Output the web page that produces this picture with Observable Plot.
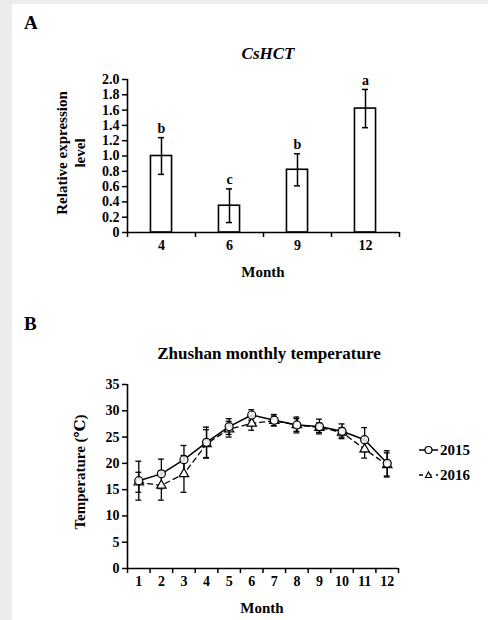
<!DOCTYPE html>
<html>
<head>
<meta charset="utf-8">
<script src="https://cdn.jsdelivr.net/npm/d3@7"></script>
<script src="https://cdn.jsdelivr.net/npm/@observablehq/plot@0.6"></script>
<style>
  html, body { margin: 0; padding: 0; }
  body { width: 488px; height: 620px; background: #ececec; position: relative; overflow: hidden;
         font-family: "Liberation Serif", "Times New Roman", "DejaVu Serif", serif; font-weight: bold; color: #000; }
  #panel { position: absolute; left: 12px; top: 4px; width: 476px; height: 616px; background: #fff; }
  .abs { position: absolute; white-space: nowrap; line-height: 1; }
  .c { transform: translate(-50%, -50%); }
  .rot { transform: translate(-50%, -50%) rotate(-90deg); }
  .chart { position: absolute; left: 0; }
  .chart svg, .chart svg text { font-family: "Liberation Serif", "Times New Roman", serif !important; font-weight: bold !important; font-size: 14px !important; }
</style>
</head>
<body>
<div id="panel"></div>
<div class="abs" style="left:24px; top:13px; font-size:19px;">A</div>
<div class="abs c" style="left:268px; top:53px; font-size:17px; font-style:italic;">CsHCT</div>
<div class="abs rot" style="left:62px; top:153px; font-size:15px;">Relative expression</div>
<div class="abs rot" style="left:80px; top:153px; font-size:15px;">level</div>
<div class="abs c" style="left:263px; top:272px; font-size:15px;">Month</div>
<div id="chartA" class="chart" style="top:0px;"></div>

<div class="abs" style="left:24px; top:314px; font-size:19px;">B</div>
<div class="abs c" style="left:269px; top:353px; font-size:17px;">Zhushan monthly temperature</div>
<div class="abs rot" style="left:80px; top:472px; font-size:15px;">Temperature (℃)</div>
<div class="abs c" style="left:262px; top:608px; font-size:15px;">Month</div>
<div id="chartB" class="chart" style="top:290px;"></div>
<div id="legend" class="abs" style="left:419px; top:440px;"></div>

<script>
// ---------- Panel A data ----------
const monthsA = ["4", "6", "9", "12"];
const expr = [1.0, 0.35, 0.82, 1.62];
const exprErr = [0.24, 0.22, 0.21, 0.25];
const sigLetters = ["b", "c", "b", "a"];
const exprTicks = [0, 0.2, 0.4, 0.6, 0.8, 1.0, 1.2, 1.4, 1.6, 1.8, 2.0];

// ---------- Panel B data ----------
const months = [1, 2, 3, 4, 5, 6, 7, 8, 9, 10, 11, 12];
const temp2015 = [16.7, 18.0, 20.7, 24.0, 27.0, 29.2, 28.2, 27.3, 27.0, 26.1, 24.5, 20.0];
const err2015  = [3.7, 2.8, 2.7, 2.9, 1.5, 1.0, 1.1, 1.5, 1.4, 1.4, 2.3, 2.4];
const temp2016 = [16.4, 15.8, 18.0, 23.7, 26.5, 27.6, 28.1, 27.3, 26.8, 25.9, 22.7, 19.7];
const err2016  = [1.9, 2.8, 3.5, 2.7, 1.5, 1.3, 0.9, 1.2, 0.9, 0.9, 1.7, 2.3];
const tempTicks = [0, 5, 10, 15, 20, 25, 30, 35];
const seriesNames = ["2015", "2016"];

const FONT = '"Liberation Serif", "Times New Roman", serif';
const style = { fontFamily: FONT, fontSize: "14px", fontWeight: "bold", color: "#000", background: "transparent", overflow: "visible" };

// ---------- Chart A ----------
const dataA = monthsA.map((m, i) => ({ i, m, v: expr[i], e: exprErr[i], L: sigLetters[i] }));
const xDomA = [-0.5, monthsA.length - 0.5];
const halfBar = 0.155, halfCapA = 0.045;

const chartA = Plot.plot({
  width: 488, height: 290,
  marginLeft: 127, marginRight: 89, marginTop: 79, marginBottom: 58,
  style,
  x: { domain: xDomA, axis: null },
  y: { domain: [0, 2], axis: null },
  marks: [
    Plot.rectY(dataA, { x1: d => d.i - halfBar, x2: d => d.i + halfBar, y: "v", fill: "white", stroke: "black", strokeWidth: 1.6 }),
    Plot.ruleX(dataA, { x: "i", y1: d => d.v - d.e, y2: d => d.v + d.e, stroke: "black", strokeWidth: 1.5 }),
    Plot.ruleY(dataA, { y: d => d.v + d.e, x1: d => d.i - halfCapA, x2: d => d.i + halfCapA, stroke: "black", strokeWidth: 1.5 }),
    Plot.ruleY(dataA, { y: d => d.v - d.e, x1: d => d.i - halfCapA, x2: d => d.i + halfCapA, stroke: "black", strokeWidth: 1.5 }),
    Plot.text(dataA, { x: "i", y: d => d.v + d.e, text: "L", dy: -9, fontSize: 14, fontWeight: "bold" }),
    Plot.axisY({ ticks: exprTicks, tickFormat: d => d === 0 ? "0" : d.toFixed(1), tickSize: 5, tickPadding: 3, label: null, strokeWidth: 1.5 }),
    Plot.axisX({ ticks: d3.range(xDomA[0], xDomA[1] + 0.01, 1), tickFormat: () => "", tickSize: 5, label: null, strokeWidth: 1.5 }),
    Plot.axisX({ ticks: d3.range(monthsA.length), tickFormat: i => monthsA[i], tickSize: 0, tickPadding: 8, label: null }),
    Plot.ruleY([0], { stroke: "black", strokeWidth: 1.6 }),
    Plot.ruleX([xDomA[0]], { stroke: "black", strokeWidth: 1.6 })
  ]
});
document.getElementById("chartA").appendChild(chartA);

// ---------- Chart B ----------
const dataB = [];
months.forEach((m, i) => {
  dataB.push({ m, year: seriesNames[0], v: temp2015[i], e: err2015[i] });
  dataB.push({ m, year: seriesNames[1], v: temp2016[i], e: err2016[i] });
});
const d15 = dataB.filter(d => d.year === "2015");
const d16 = dataB.filter(d => d.year === "2016");
const xDomB = [0.5, months.length + 0.5];
const halfCapB = 0.13;

const errMarks = (data) => [
  Plot.ruleX(data, { x: "m", y1: d => d.v - d.e, y2: d => d.v + d.e, stroke: "black", strokeWidth: 1.3 }),
  Plot.ruleY(data, { y: d => d.v + d.e, x1: d => d.m - halfCapB, x2: d => d.m + halfCapB, stroke: "black", strokeWidth: 1.3 }),
  Plot.ruleY(data, { y: d => d.v - d.e, x1: d => d.m - halfCapB, x2: d => d.m + halfCapB, stroke: "black", strokeWidth: 1.3 })
];

const chartB = Plot.plot({
  width: 488, height: 330,
  marginLeft: 127, marginRight: 90, marginTop: 94, marginBottom: 52,
  style,
  x: { domain: xDomB, axis: null },
  y: { domain: [0, 35], axis: null },
  marks: [
    ...errMarks(d16),
    ...errMarks(d15),
    Plot.line(d16, { x: "m", y: "v", stroke: "black", strokeWidth: 1.3, strokeDasharray: "5,4" }),
    Plot.line(d15, { x: "m", y: "v", stroke: "black", strokeWidth: 1.5 }),
    Plot.dot(d16, { x: "m", y: "v", symbol: "triangle", r: 3.5, fill: "white", stroke: "black", strokeWidth: 1.2 }),
    Plot.dot(d15, { x: "m", y: "v", symbol: "circle", r: 4, fill: "white", stroke: "black", strokeWidth: 1.2, fillOpacity: 0.85 }),
    Plot.axisY({ ticks: tempTicks, tickSize: 5, tickPadding: 3, label: null, strokeWidth: 1.5 }),
    Plot.axisX({ ticks: d3.range(xDomB[0], xDomB[1] + 0.01, 1), tickFormat: () => "", tickSize: 5, label: null, strokeWidth: 1.5 }),
    Plot.axisX({ ticks: months, tickSize: 0, tickPadding: 8, label: null }),
    Plot.ruleY([0], { stroke: "black", strokeWidth: 1.6 }),
    Plot.ruleX([xDomB[0]], { stroke: "black", strokeWidth: 1.6 })
  ]
});
document.getElementById("chartB").appendChild(chartB);

// ---------- Legend ----------
const legend = document.getElementById("legend");
legend.innerHTML = `
<div style="display:flex;align-items:center;height:20px;font-size:15px;">
  <svg width="20" height="12"><line x1="0" y1="6" x2="19" y2="6" stroke="black" stroke-width="1.5"/><circle cx="9.5" cy="6" r="3.5" fill="white" stroke="black" stroke-width="1.2"/></svg>
  <span style="margin-left:1px">${seriesNames[0]}</span>
</div>
<div style="display:flex;align-items:center;height:20px;margin-top:5px;font-size:15px;">
  <svg width="20" height="12"><line x1="0" y1="6" x2="19" y2="6" stroke="black" stroke-width="1.3" stroke-dasharray="4,4.5"/><path d="M9.5,3 L12.5,8.5 L6.5,8.5 Z" fill="white" stroke="black" stroke-width="1.2"/></svg>
  <span style="margin-left:1px">${seriesNames[1]}</span>
</div>`;
</script>
</body>
</html>
